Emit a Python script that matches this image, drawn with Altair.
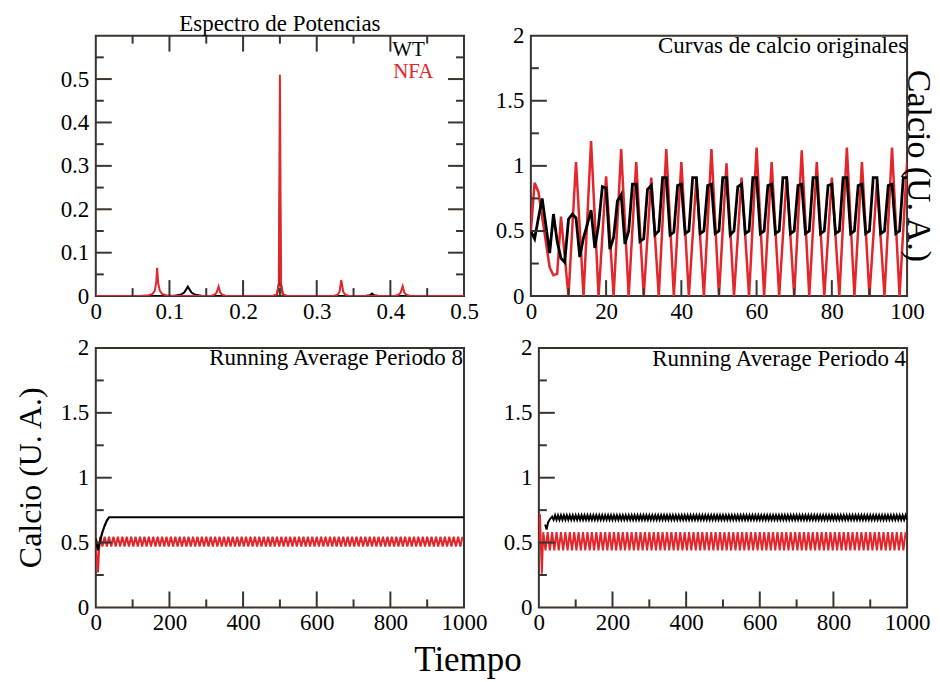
import altair as alt
import pandas as pd

RED = "#e3262b"
BLACK = "#000000"
FRAME = "#3a3430"
FONT = "Liberation Serif"

# ---------------- Panel A: power spectrum ----------------
freq_wt = [0, 0.105, 0.115, 0.12, 0.123, 0.125, 0.127, 0.13, 0.135, 0.145,
           0.24, 0.246, 0.249, 0.25, 0.251, 0.254, 0.26,
           0.365, 0.372, 0.375, 0.378, 0.385, 0.5]
pow_wt = [0, 0, 0.003, 0.008, 0.016, 0.022, 0.016, 0.008, 0.003, 0,
          0, 0.004, 0.03, 0.25, 0.03, 0.004, 0,
          0, 0.002, 0.006, 0.002, 0, 0]
freq_nfa = [0, 0.06, 0.072, 0.077, 0.08, 0.082, 0.0833, 0.0847, 0.087, 0.09, 0.095, 0.107,
            0.155, 0.161, 0.164, 0.1667, 0.169, 0.172, 0.178,
            0.24, 0.246, 0.2485, 0.25, 0.2515, 0.254, 0.26,
            0.322, 0.328, 0.331, 0.3333, 0.336, 0.339, 0.345,
            0.405, 0.411, 0.414, 0.4167, 0.419, 0.422, 0.428, 0.5]
pow_nfa = [0, 0, 0.002, 0.005, 0.012, 0.03, 0.065, 0.03, 0.012, 0.005, 0.002, 0,
           0, 0.003, 0.008, 0.022, 0.008, 0.003, 0,
           0, 0.004, 0.03, 0.51, 0.03, 0.004, 0,
           0, 0.003, 0.01, 0.037, 0.01, 0.003, 0,
           0, 0.003, 0.008, 0.023, 0.008, 0.003, 0, 0]

# ---------------- Panel B: original calcium curves ----------------
t_orig_wt = list(range(0, 101))
ca_orig_wt = [0.50, 0.44, 0.60, 0.75, 0.54, 0.33, 0.63, 0.42, 0.29, 0.26,
              0.59, 0.63, 0.60, 0.30, 0.45, 0.55, 0.66, 0.37, 0.55, 0.84,
              0.83, 0.36, 0.45, 0.73, 0.78, 0.40, 0.50, 0.86, 0.86, 0.42,
              0.44, 0.82, 0.85, 0.47, 0.50, 0.91, 0.91, 0.47, 0.49, 0.85,
              0.86, 0.48, 0.50, 0.91, 0.91, 0.48, 0.50, 0.85, 0.86, 0.48,
              0.50, 0.91, 0.91, 0.47, 0.50, 0.84, 0.86, 0.48, 0.50, 0.91,
              0.91, 0.48, 0.50, 0.85, 0.86, 0.48, 0.50, 0.91, 0.91, 0.48,
              0.50, 0.85, 0.86, 0.48, 0.50, 0.91, 0.91, 0.48, 0.50, 0.85,
              0.86, 0.48, 0.50, 0.91, 0.91, 0.48, 0.50, 0.85, 0.86, 0.48,
              0.50, 0.91, 0.91, 0.48, 0.50, 0.85, 0.86, 0.48, 0.50, 0.91,
              0.91]
t_orig_nfa = [0, 1, 2, 5, 6, 7, 8] + list(range(10, 101, 2))
ca_orig_nfa = [0.50, 0.87, 0.80, 0.22, 0.16, 0.17, 0.61,
               0.0, 1.03, 0.0, 1.19, 0.0, 0.92, 0.0, 1.13, 0.0, 1.03,
               0.0, 0.91, 0.0, 1.13, 0.0, 1.03, 0.0, 0.91, 0.0, 1.13,
               0.0, 1.02, 0.0, 0.91, 0.0, 1.14, 0.0, 1.03, 0.0, 0.92,
               0.0, 1.12, 0.0, 1.03, 0.0, 0.91, 0.0, 1.14, 0.0, 1.03,
               0.0, 0.88, 0.0, 1.14, 0.0, 1.03]

# ---------------- Panel C: running average, period 8 ----------------
t_ra8_wt = [0, 6, 12, 18, 24, 30, 36, 1000]
ca_ra8_wt = [0.53, 0.44, 0.52, 0.58, 0.63, 0.67, 0.695, 0.695]
t_ra8_nfa = [0, 3, 6, 9] + list(range(12, 1000, 6))
ca_ra8_nfa = [0.50, 0.38, 0.27, 0.45,
              0.545, 0.47, 0.545, 0.47, 0.545, 0.47, 0.545, 0.47, 0.545, 0.47,  # 1
              0.545, 0.47, 0.545, 0.47, 0.545, 0.47, 0.545, 0.47, 0.545, 0.47,  # 2
              0.545, 0.47, 0.545, 0.47, 0.545, 0.47, 0.545, 0.47, 0.545, 0.47,  # 3
              0.545, 0.47, 0.545, 0.47, 0.545, 0.47, 0.545, 0.47, 0.545, 0.47,  # 4
              0.545, 0.47, 0.545, 0.47, 0.545, 0.47, 0.545, 0.47, 0.545, 0.47,  # 5
              0.545, 0.47, 0.545, 0.47, 0.545, 0.47, 0.545, 0.47, 0.545, 0.47,  # 6
              0.545, 0.47, 0.545, 0.47, 0.545, 0.47, 0.545, 0.47, 0.545, 0.47,  # 7
              0.545, 0.47, 0.545, 0.47, 0.545, 0.47, 0.545, 0.47, 0.545, 0.47,  # 8
              0.545, 0.47, 0.545, 0.47, 0.545, 0.47, 0.545, 0.47, 0.545, 0.47,  # 9
              0.545, 0.47, 0.545, 0.47, 0.545, 0.47, 0.545, 0.47, 0.545, 0.47,  # 10
              0.545, 0.47, 0.545, 0.47, 0.545, 0.47, 0.545, 0.47, 0.545, 0.47,  # 11
              0.545, 0.47, 0.545, 0.47, 0.545, 0.47, 0.545, 0.47, 0.545, 0.47,  # 12
              0.545, 0.47, 0.545, 0.47, 0.545, 0.47, 0.545, 0.47, 0.545, 0.47,  # 13
              0.545, 0.47, 0.545, 0.47, 0.545, 0.47, 0.545, 0.47, 0.545, 0.47,  # 14
              0.545, 0.47, 0.545, 0.47, 0.545, 0.47, 0.545, 0.47, 0.545, 0.47,  # 15
              0.545, 0.47, 0.545, 0.47, 0.545, 0.47, 0.545, 0.47, 0.545, 0.47,  # 16
              0.545, 0.47, 0.545, 0.47, 0.545]

# ---------------- Panel D: running average, period 4 ----------------
t_ra4_wt = [17, 21, 25, 30, 36] + list(range(40, 1001, 4))
ca_ra4_wt = [0.64, 0.60, 0.655, 0.68, 0.70,
             0.675, 0.71, 0.675, 0.71, 0.675, 0.71, 0.675, 0.71, 0.675, 0.71,  # 1
             0.675, 0.71, 0.675, 0.71, 0.675, 0.71, 0.675, 0.71, 0.675, 0.71,  # 2
             0.675, 0.71, 0.675, 0.71, 0.675, 0.71, 0.675, 0.71, 0.675, 0.71,  # 3
             0.675, 0.71, 0.675, 0.71, 0.675, 0.71, 0.675, 0.71, 0.675, 0.71,  # 4
             0.675, 0.71, 0.675, 0.71, 0.675, 0.71, 0.675, 0.71, 0.675, 0.71,  # 5
             0.675, 0.71, 0.675, 0.71, 0.675, 0.71, 0.675, 0.71, 0.675, 0.71,  # 6
             0.675, 0.71, 0.675, 0.71, 0.675, 0.71, 0.675, 0.71, 0.675, 0.71,  # 7
             0.675, 0.71, 0.675, 0.71, 0.675, 0.71, 0.675, 0.71, 0.675, 0.71,  # 8
             0.675, 0.71, 0.675, 0.71, 0.675, 0.71, 0.675, 0.71, 0.675, 0.71,  # 9
             0.675, 0.71, 0.675, 0.71, 0.675, 0.71, 0.675, 0.71, 0.675, 0.71,  # 10
             0.675, 0.71, 0.675, 0.71, 0.675, 0.71, 0.675, 0.71, 0.675, 0.71,  # 11
             0.675, 0.71, 0.675, 0.71, 0.675, 0.71, 0.675, 0.71, 0.675, 0.71,  # 12
             0.675, 0.71, 0.675, 0.71, 0.675, 0.71, 0.675, 0.71, 0.675, 0.71,  # 13
             0.675, 0.71, 0.675, 0.71, 0.675, 0.71, 0.675, 0.71, 0.675, 0.71,  # 14
             0.675, 0.71, 0.675, 0.71, 0.675, 0.71, 0.675, 0.71, 0.675, 0.71,  # 15
             0.675, 0.71, 0.675, 0.71, 0.675, 0.71, 0.675, 0.71, 0.675, 0.71,  # 16
             0.675, 0.71, 0.675, 0.71, 0.675, 0.71, 0.675, 0.71, 0.675, 0.71,  # 17
             0.675, 0.71, 0.675, 0.71, 0.675, 0.71, 0.675, 0.71, 0.675, 0.71,  # 18
             0.675, 0.71, 0.675, 0.71, 0.675, 0.71, 0.675, 0.71, 0.675, 0.71,  # 19
             0.675, 0.71, 0.675, 0.71, 0.675, 0.71, 0.675, 0.71, 0.675, 0.71,  # 20
             0.675, 0.71, 0.675, 0.71, 0.675, 0.71, 0.675, 0.71, 0.675, 0.71,  # 21
             0.675, 0.71, 0.675, 0.71, 0.675, 0.71, 0.675, 0.71, 0.675, 0.71,  # 22
             0.675, 0.71, 0.675, 0.71, 0.675, 0.71, 0.675, 0.71, 0.675, 0.71,  # 23
             0.675, 0.71, 0.675, 0.71, 0.675, 0.71, 0.675, 0.71, 0.675, 0.71,  # 24
             0.675]
t_ra4_nfa = [0, 3, 8] + list(range(12, 1000, 6))
ca_ra4_nfa = [0.50, 0.72, 0.26,
              0.58, 0.44, 0.58, 0.44, 0.58, 0.44, 0.58, 0.44, 0.58, 0.44,  # 1
              0.58, 0.44, 0.58, 0.44, 0.58, 0.44, 0.58, 0.44, 0.58, 0.44,  # 2
              0.58, 0.44, 0.58, 0.44, 0.58, 0.44, 0.58, 0.44, 0.58, 0.44,  # 3
              0.58, 0.44, 0.58, 0.44, 0.58, 0.44, 0.58, 0.44, 0.58, 0.44,  # 4
              0.58, 0.44, 0.58, 0.44, 0.58, 0.44, 0.58, 0.44, 0.58, 0.44,  # 5
              0.58, 0.44, 0.58, 0.44, 0.58, 0.44, 0.58, 0.44, 0.58, 0.44,  # 6
              0.58, 0.44, 0.58, 0.44, 0.58, 0.44, 0.58, 0.44, 0.58, 0.44,  # 7
              0.58, 0.44, 0.58, 0.44, 0.58, 0.44, 0.58, 0.44, 0.58, 0.44,  # 8
              0.58, 0.44, 0.58, 0.44, 0.58, 0.44, 0.58, 0.44, 0.58, 0.44,  # 9
              0.58, 0.44, 0.58, 0.44, 0.58, 0.44, 0.58, 0.44, 0.58, 0.44,  # 10
              0.58, 0.44, 0.58, 0.44, 0.58, 0.44, 0.58, 0.44, 0.58, 0.44,  # 11
              0.58, 0.44, 0.58, 0.44, 0.58, 0.44, 0.58, 0.44, 0.58, 0.44,  # 12
              0.58, 0.44, 0.58, 0.44, 0.58, 0.44, 0.58, 0.44, 0.58, 0.44,  # 13
              0.58, 0.44, 0.58, 0.44, 0.58, 0.44, 0.58, 0.44, 0.58, 0.44,  # 14
              0.58, 0.44, 0.58, 0.44, 0.58, 0.44, 0.58, 0.44, 0.58, 0.44,  # 15
              0.58, 0.44, 0.58, 0.44, 0.58, 0.44, 0.58, 0.44, 0.58, 0.44,  # 16
              0.58, 0.44, 0.58, 0.44, 0.58]

# ---------------- Axis values / tick marks ----------------
spec_x_labels = [0, 0.1, 0.2, 0.3, 0.4, 0.5]
spec_y_labels = [0, 0.1, 0.2, 0.3, 0.4, 0.5]
spec_x_major = [0.1, 0.2, 0.3, 0.4]
spec_x_minor = [0.05, 0.15, 0.25, 0.35, 0.45]
spec_y_major = [0.1, 0.2, 0.3, 0.4, 0.5]
spec_y_minor = [0.05, 0.15, 0.25, 0.35, 0.45, 0.55]
orig_x_labels = [0, 20, 40, 60, 80, 100]
orig_x_major = [20, 40, 60, 80]
orig_x_minor = [10, 30, 50, 70, 90]
ca_y_labels = [0, 0.5, 1, 1.5, 2]
ca_y_major = [0.5, 1, 1.5]
ca_y_minor = [0.25, 0.75, 1.25, 1.75]
ra_x_labels = [0, 200, 400, 600, 800, 1000]
ra_x_major = [200, 400, 600, 800]
ra_x_minor = [100, 300, 500, 700, 900]

legend_labels = ["WT", "NFA"]
panel_titles = ["Espectro de Potencias", "Curvas de calcio originales",
                "Running Average Periodo 8", "Running Average Periodo 4"]
y_title = "Calcio (U. A.)"
x_title = "Tiempo"

for a, b in ((t_orig_wt, ca_orig_wt), (t_orig_nfa, ca_orig_nfa),
             (t_ra8_nfa, ca_ra8_nfa), (t_ra4_wt, ca_ra4_wt), (t_ra4_nfa, ca_ra4_nfa)):
    assert len(a) == len(b), (len(a), len(b))


def text_layer(label, x, y, size, color="black", align="left",
               baseline="alphabetic", angle=None):
    kw = dict(font=FONT, fontSize=size, color=color, align=align, baseline=baseline)
    if angle is not None:
        kw["angle"] = angle
    return alt.Chart(alt.Data(values=[{"s": label}])).mark_text(**kw).encode(
        x=alt.value(x), y=alt.value(y), text="s:N")


def panel(lines, W, H, xdom, ydom, xlab, ylab, xmaj, xmin, ymaj, ymin,
          mirror=False, extra=()):
    xs = alt.Scale(domain=xdom, nice=False, zero=False)
    ys = alt.Scale(domain=ydom, nice=False, zero=False)
    xaxis = alt.Axis(values=xlab, format=".6~g", title=None, labelFlush=False,
                     labelOverlap=False)
    yaxis = alt.Axis(values=ylab, format=".6~g", title=None, labelOverlap=False)
    layers = []
    for xv, yv, color, sw in lines:
        df = pd.DataFrame({"x": xv, "y": yv})
        layers.append(alt.Chart(df).mark_line(color=color, strokeWidth=sw, clip=True).encode(
            x=alt.X("x:Q", scale=xs, axis=xaxis),
            y=alt.Y("y:Q", scale=ys, axis=yaxis)))
    rule = dict(color=FRAME, strokeWidth=2)
    for vals, ln in ((xmaj, 16), (xmin, 8)):
        d = pd.DataFrame({"x": vals})
        layers.append(alt.Chart(d).mark_rule(**rule).encode(
            x=alt.X("x:Q", scale=xs, axis=xaxis), y=alt.value(H), y2=alt.value(H - ln)))
        if mirror:
            layers.append(alt.Chart(d).mark_rule(**rule).encode(
                x=alt.X("x:Q", scale=xs, axis=xaxis), y=alt.value(0), y2=alt.value(ln)))
    for vals, ln in ((ymaj, 16), (ymin, 8)):
        d = pd.DataFrame({"y": vals})
        layers.append(alt.Chart(d).mark_rule(**rule).encode(
            y=alt.Y("y:Q", scale=ys, axis=yaxis), x=alt.value(0), x2=alt.value(ln)))
        if mirror:
            layers.append(alt.Chart(d).mark_rule(**rule).encode(
                y=alt.Y("y:Q", scale=ys, axis=yaxis), x=alt.value(W), x2=alt.value(W - ln)))
    layers.extend(extra)
    return alt.layer(*layers).properties(width=W, height=H)


WA, HA = 369, 261
WB, HB = 377, 261
WC, HC = 369, 260
WD, HD = 369, 260

pA = panel([(freq_wt, pow_wt, BLACK, 2), (freq_nfa, pow_nfa, RED, 2)],
           WA, HA, [0, 0.5], [0, 0.6], spec_x_labels, spec_y_labels,
           spec_x_major, spec_x_minor, spec_y_major, spec_y_minor, mirror=True,
           extra=[text_layer(panel_titles[0], WA / 2, -5, 23, align="center"),
                  text_layer(legend_labels[0], 297, 20, 21),
                  text_layer(legend_labels[1], 298, 42, 21, color=RED)])

pB = panel([(t_orig_nfa, ca_orig_nfa, RED, 2.5), (t_orig_wt, ca_orig_wt, BLACK, 2.8)],
           WB, HB, [0, 100], [0, 2], orig_x_labels, ca_y_labels,
           orig_x_major, orig_x_minor, ca_y_major, ca_y_minor,
           extra=[text_layer(panel_titles[1], WB, 17, 23, align="right"),
                  text_layer(y_title, 388, HB / 2, 34, align="center",
                             baseline="middle", angle=90)])

pC = panel([(t_ra8_nfa, ca_ra8_nfa, RED, 2), (t_ra8_wt, ca_ra8_wt, BLACK, 2.2)],
           WC, HC, [0, 1000], [0, 2], ra_x_labels, ca_y_labels,
           ra_x_major, ra_x_minor, ca_y_major, ca_y_minor,
           extra=[text_layer(panel_titles[2], WC - 1, 17, 23, align="right"),
                  text_layer(y_title, -65, HC / 2, 32, align="center",
                             baseline="middle", angle=270),
                  text_layer(x_title, 373, 324, 35, align="center")])

pD = panel([(t_ra4_nfa, ca_ra4_nfa, RED, 2), (t_ra4_wt, ca_ra4_wt, BLACK, 2)],
           WD, HD, [0, 1000], [0, 2], ra_x_labels, ca_y_labels,
           ra_x_major, ra_x_minor, ca_y_major, ca_y_minor,
           extra=[text_layer(panel_titles[3], WD - 1, 18, 23, align="right")])

row1 = alt.hconcat(pA, pB, spacing=67, bounds="flush")
row2 = alt.hconcat(pC, pD, spacing=75, bounds="flush")

chart = alt.vconcat(row1, row2, spacing=12).properties(
    padding={"left": 14, "top": 11, "right": 4, "bottom": 0},
    background="white",
).configure_view(
    stroke=FRAME, strokeWidth=2
).configure_axis(
    domain=False, ticks=False, tickSize=0, grid=False,
    labelFont=FONT, labelFontSize=23, labelColor="black",
).configure_axisX(
    labelPadding=4
).configure_axisY(
    labelPadding=7
)

chart.save("out.html", embed_options={"renderer": "svg", "actions": False})
